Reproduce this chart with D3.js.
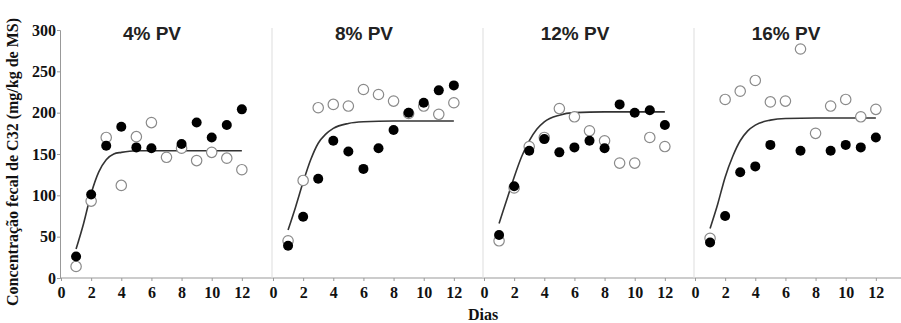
<!DOCTYPE html>
<html>
<head>
<meta charset="utf-8">
<script src="https://cdn.jsdelivr.net/npm/d3@7"></script>
<style>
  html, body { margin: 0; padding: 0; background: #fff; }
  svg { display: block; }
</style>
</head>
<body>
<div id="chart"></div>
<script>
// values
const days = [1, 2, 3, 4, 5, 6, 7, 8, 9, 10, 11, 12];
const panelTitles = ['4% PV', '8% PV', '12% PV', '16% PV'];

// filled circles (null = no point shown)
const filled4 = [26, 101, 160, 183, 158, 157, null, 162, 188, 170, 185, 204];
const filled8 = [39, 74, 120, 166, 153, 132, 157, 179, 200, 212, 227, 233];
const filled12 = [52, 111, 154, 168, 152, 158, 166, 157, 210, 200, 203, 185];
const filled16 = [43, 75, 128, 135, 161, null, 154, null, 154, 161, 158, 170];

// open circles
const open4 = [14, 93, 170, 112, 171, 188, 146, 157, 142, 152, 145, 131];
const open8 = [45, 118, 206, 210, 208, 228, 222, 214, 199, 208, 198, 212];
const open12 = [45, 109, 159, 170, 205, 195, 178, 166, 139, 139, 170, 159];
const open16 = [48, 216, 226, 239, 213, 214, 277, 175, 208, 216, 195, 204];

// fitted curve
const curveDays = [1, 1.5, 2, 2.5, 3, 3.5, 4, 5, 6, 8, 10, 12];
const curve4 = [35, 66, 102, 128, 143, 150, 152, 154, 154, 154, 154, 154];
const curve8 = [58, 86, 116, 143, 163, 174, 181, 187, 189, 190, 190, 190];
const curve12 = [66, 94, 122, 147, 166, 180, 189, 197, 200, 201, 201, 201];
const curve16 = [60, 89, 122, 147, 166, 178, 185, 191, 193, 193.5, 193.5, 193.5];

const yTicks = [0, 50, 100, 150, 200, 250, 300];
const xTicks = [0, 2, 4, 6, 8, 10, 12];

const filledSets = [filled4, filled8, filled12, filled16];
const openSets = [open4, open8, open12, open16];
const curveSets = [curve4, curve8, curve12, curve16];

const width = 901;
const height = 323;
const panelStarts = [60, 272, 483, 694];
const panelWidth = 211;
const marginTop = 30;
const axisY = 278;
const serif = '"Liberation Serif", "Times New Roman", serif';

const svg = d3.select('#chart')
  .append('svg')
  .attr('width', width)
  .attr('height', height);

const y = d3.scaleLinear().domain([0, 300]).range([axisY, marginTop]);

// y axis
const gy = svg.append('g')
  .attr('transform', `translate(${panelStarts[0]},0)`)
  .call(d3.axisLeft(y).tickValues(yTicks).tickSize(3).tickPadding(1));
gy.select('.domain').attr('stroke', '#999');
gy.selectAll('.tick line').attr('stroke', '#999');
gy.selectAll('.tick text')
  .attr('font-family', serif)
  .attr('font-weight', 'bold')
  .attr('font-size', 16)
  .attr('fill', '#111');

// y label
svg.append('text')
  .attr('transform', 'translate(18,162) rotate(-90)')
  .attr('text-anchor', 'middle')
  .attr('font-family', serif)
  .attr('font-weight', 'bold')
  .attr('font-size', 16)
  .attr('fill', '#111')
  .text('Concentração fecal de C32 (mg/kg de MS)');

// x axis base line across all panels
svg.append('line')
  .attr('x1', panelStarts[0]).attr('x2', width)
  .attr('y1', axisY).attr('y2', axisY)
  .attr('stroke', '#999');

const line = d3.line()
  .curve(d3.curveMonotoneX);

panelTitles.forEach((title, i) => {
  const x0 = panelStarts[i];
  const x = d3.scaleLinear().domain([0, 14]).range([x0 + 1, x0 + 1 + panelWidth]);

  // panel separator
  if (i > 0) {
    svg.append('line')
      .attr('x1', x0).attr('x2', x0)
      .attr('y1', marginTop - 2).attr('y2', axisY)
      .attr('stroke', '#ddd');
  }

  const gx = svg.append('g')
    .attr('transform', `translate(0,${axisY})`)
    .call(d3.axisBottom(x).tickValues(xTicks).tickSize(3).tickPadding(6));
  gx.select('.domain').remove();
  gx.selectAll('.tick line').attr('stroke', '#999');
  gx.selectAll('.tick text')
    .attr('font-family', serif)
    .attr('font-weight', 'bold')
    .attr('font-size', 16)
    .attr('fill', '#111');

  // title
  svg.append('text')
    .attr('x', x0 + 92)
    .attr('y', 40)
    .attr('text-anchor', 'middle')
    .attr('font-family', '"Liberation Sans", Arial, sans-serif')
    .attr('font-weight', 'bold')
    .attr('font-size', 19)
    .attr('fill', '#222')
    .text(title);

  // fitted curve
  svg.append('path')
    .datum(curveDays.map((d, j) => [x(d), y(curveSets[i][j])]))
    .attr('fill', 'none')
    .attr('stroke', '#333')
    .attr('stroke-width', 1.6)
    .attr('d', line);

  // open circles
  svg.append('g')
    .selectAll('circle')
    .data(days.map((d, j) => ({ day: d, v: openSets[i][j] })).filter(d => d.v != null))
    .join('circle')
    .attr('cx', d => x(d.day))
    .attr('cy', d => y(d.v))
    .attr('r', 5.2)
    .attr('fill', '#fff')
    .attr('stroke', '#8a8a8a')
    .attr('stroke-width', 1.2);

  // filled circles
  svg.append('g')
    .selectAll('circle')
    .data(days.map((d, j) => ({ day: d, v: filledSets[i][j] })).filter(d => d.v != null))
    .join('circle')
    .attr('cx', d => x(d.day))
    .attr('cy', d => y(d.v))
    .attr('r', 5)
    .attr('fill', '#000');
});

// x label
svg.append('text')
  .attr('x', 483)
  .attr('y', 320)
  .attr('text-anchor', 'middle')
  .attr('font-family', serif)
  .attr('font-weight', 'bold')
  .attr('font-size', 16)
  .attr('fill', '#111')
  .text('Dias');
</script>
</body>
</html>
